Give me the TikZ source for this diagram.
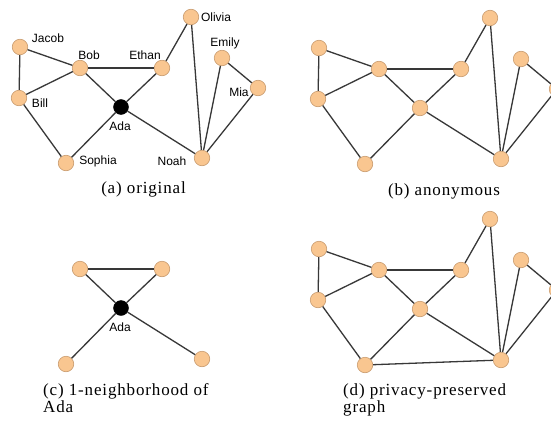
\documentclass[tikz,border=0pt]{standalone}
\usepackage{fontspec}
\setmainfont{Liberation Serif}
\newfontfamily\labfont{Liberation Sans}
\newfontfamily\capfont[LetterSpace=5]{Liberation Serif}
\definecolor{nodefill}{HTML}{F9C690}
\definecolor{nodeborder}{HTML}{C99B6E}
\definecolor{edgecol}{HTML}{383838}
\newcommand\vertices[2]{% #1 prefix, #2 style of central node
  \node[vtx] (#1J) at (20,47) {};
  \node[vtx] (#1Bo) at (80,68) {};
  \node[vtx] (#1E) at (162,68) {};
  \node[vtx] (#1O) at (191,17) {};
  \node[vtx] (#1Em) at (222,58) {};
  \node[vtx] (#1M) at (258,88) {};
  \node[vtx] (#1Bi) at (19,98) {};
  \node[#2] (#1A) at (121,107) {};
  \node[vtx] (#1S) at (66,163) {};
  \node[vtx] (#1N) at (202,158) {};
  \draw[linkline] (#1J) -- (#1Bo);
  \draw[linkline] (#1J) -- (#1Bi);
  \draw[linkline] (#1Bi) -- (#1Bo);
  \draw[linkline] (#1Bo) -- (#1E);
  \draw[linkline] (#1Bo) -- (#1A);
  \draw[linkline] (#1E) -- (#1A);
  \draw[linkline] (#1E) -- (#1O);
  \draw[linkline] (#1O) -- (#1N);
  \draw[linkline] (#1Em) -- (#1N);
  \draw[linkline] (#1Em) -- (#1M);
  \draw[linkline] (#1M) -- (#1N);
  \draw[linkline] (#1A) -- (#1N);
  \draw[linkline] (#1A) -- (#1S);
  \draw[linkline] (#1Bi) -- (#1S);
}
\begin{document}
\begin{tikzpicture}[x=1pt,y=-1pt,
  vtx/.style={circle,draw=nodeborder,fill=nodefill,line width=0.6pt,minimum size=15.5pt,inner sep=0pt},
  adanode/.style={circle,fill=black,draw=black,minimum size=15pt,inner sep=0pt},
  linkline/.style={draw=edgecol,line width=1.3pt},
  lab/.style={font=\labfont\fontsize{12}{14}\selectfont,text=black,inner sep=0pt},
  captext/.style={font=\capfont\fontsize{17}{18}\selectfont,inner sep=0pt}]
\useasboundingbox (0,0) rectangle (551,423);
\fill[white] (0,0) rectangle (551,423);
\clip (0,0) rectangle (551,423);

% (a) original
\vertices{a}{adanode}
\node[lab] (lJ) at (48,38) {Jacob};
\node[lab] (lBo) at (89,55) {Bob};
\node[lab] (lE) at (145,55) {Ethan};
\node[lab] (lO) at (216,17) {Olivia};
\node[lab] (lEm) at (225,43) {Emily};
\node[lab] (lM) at (239,92) {Mia};
\node[lab] (lBi) at (40,103) {Bill};
\node[lab] (lA) at (120,126) {Ada};
\node[lab] (lS) at (98,161) {Sophia};
\node[lab] (lN) at (172,161) {Noah};
\node[captext,anchor=base] (capa) at (143.5,193) {(a) original};

% (b) anonymous
\begin{scope}[shift={(299,1)}]
\vertices{b}{vtx}
\end{scope}
\node[captext,anchor=base] (capb) at (444,195) {(b) anonymous};

% (c) 1-neighborhood of Ada
\begin{scope}[shift={(0,201)}]
\node[vtx] (cBo) at (80,68) {};
\node[vtx] (cE) at (162,68) {};
\node[adanode] (cA) at (121,107) {};
\node[vtx] (cS) at (66,163) {};
\node[vtx] (cN) at (202,158) {};
\draw[linkline] (cBo) -- (cE);
\draw[linkline] (cBo) -- (cA);
\draw[linkline] (cE) -- (cA);
\draw[linkline] (cA) -- (cS);
\draw[linkline] (cA) -- (cN);
\node[lab] (lcA) at (120,126) {Ada};
\end{scope}
\node[captext,anchor=base west] (capc1) at (43,395) {(c) 1-neighborhood of};
\node[captext,anchor=base west] (capc2) at (43,412) {Ada};

% (d) privacy-preserved graph
\begin{scope}[shift={(299,202)}]
\vertices{d}{vtx}
\draw[linkline] (dS) -- (dN);
\end{scope}
\node[captext,anchor=base west] (capd1) at (343,395) {(d) privacy-preserved};
\node[captext,anchor=base west] (capd2) at (343,412) {graph};
\end{tikzpicture}
\end{document}
